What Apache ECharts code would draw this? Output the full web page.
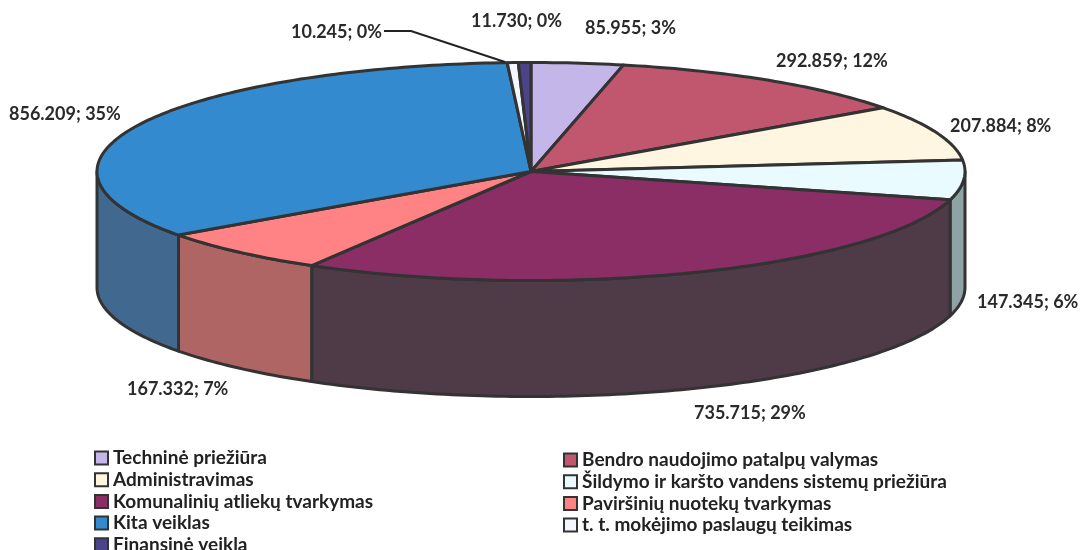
<!DOCTYPE html>
<html>
<head>
<meta charset="utf-8">
<style>
    html, body { margin: 0; padding: 0; background: #fff; }
    #chart { width: 1081px; height: 550px; }
</style>
<script src="https://cdn.jsdelivr.net/npm/echarts@6/dist/echarts.min.js"></script>
</head>
<body>
<div id="chart"></div>
<script>
// slices, in drawing order, clockwise from 12 o'clock
const categories = [
    'Techninė priežiūra',
    'Bendro naudojimo patalpų valymas',
    'Administravimas',
    'Šildymo ir karšto vandens sistemų priežiūra',
    'Komunalinių atliekų tvarkymas',
    'Paviršinių nuotekų tvarkymas',
    'Kita veiklas',
    't. t. mokėjimo paslaugų teikimas',
    'Finansinė veikla'
];
const values = [85955, 292859, 207884, 147345, 735715, 167332, 856209, 10245, 11730];
// the percentages as printed on the original
const percents = [3, 12, 8, 6, 29, 7, 35, 0, 0];

const topColors = ['#c5b6ea', '#c1566f', '#fff6e1', '#e9fbff', '#8b2e66', '#ff8284', '#338ace', '#f4f7ff', '#4b4488'];
const wallColors = ['#6f6785', '#6f3240', '#8f8a7e', '#8fa3a5', '#4f3a47', '#b06565', '#41698f', '#888b92', '#2b274e'];

// pie geometry in pixels
const cx = 531;
const cy = 171.5;
const rx = 434;
const ry = 109;
const depth = 116;

// label anchors (left, middle) in the same order as the slices
const labelAnchors = [
    [585, 27], [776, 60], [950, 125], [977, 301], [694, 412],
    [127, 388], [9, 113], [291, 31], [471, 20]
];

const total = values.reduce((a, b) => a + b, 0);

function pointAt(deg, dy) {
    const r = deg * Math.PI / 180;
    return [cx + rx * Math.sin(r), cy - ry * Math.cos(r) + dy];
}

function arc(from, to, dy) {
    const pts = [];
    const n = Math.max(2, Math.ceil(Math.abs(to - from)));
    for (let i = 0; i <= n; i++) {
        pts.push(pointAt(from + (to - from) * i / n, dy));
    }
    return pts;
}

const edge = { stroke: '#333', lineWidth: 3, lineJoin: 'round' };

function sliceRenderer(index) {
    const before = values.slice(0, index).reduce((a, b) => a + b, 0);

    return (params, api) => {
        const a0 = before / total * 360;
        const a1 = (before + api.value(0)) / total * 360;
        const children = [];

        // only the front half of the cylinder shows a wall
        const w0 = Math.max(a0, 90);
        const w1 = Math.min(a1, 270);
        if (w1 > w0) {
            const wall = arc(w0, w1, 0).concat(arc(w1, w0, depth));
            children.push({
                type: 'polygon',
                shape: { points: wall },
                style: { fill: wallColors[index], ...edge }
            });
        }

        children.push({
            type: 'polygon',
            shape: { points: [[cx, cy]].concat(arc(a0, a1, 0)) },
            style: { fill: topColors[index], ...edge }
        });

        return { type: 'group', children };
    };
}

const series = categories.map((name, i) => ({
    name,
    type: 'custom',
    coordinateSystem: 'none',
    silent: true,
    itemStyle: { color: topColors[i] },
    renderItem: sliceRenderer(i),
    data: [[values[i]]]
}));

const labelFont = {
    fontFamily: 'Lato',
    fontWeight: 'bold',
    fontSize: 18,
    fill: '#2a2a2a'
};

const labels = values.map((v, i) => ({
    type: 'text',
    left: labelAnchors[i][0],
    top: labelAnchors[i][1] - 8,
    style: {
        text: `${v.toLocaleString('de-DE')}; ${percents[i]}%`,
        ...labelFont
    }
}));

function legend(left, top, names) {
    return {
        left,
        top,
        // the last row runs off the bottom of the page, as in the original
        height: 200,
        orient: 'vertical',
        data: names,
        selectedMode: false,
        icon: 'rect',
        itemWidth: 13,
        itemHeight: 13,
        itemGap: 2.7,
        padding: 0,
        itemStyle: { borderColor: '#333', borderWidth: 2 },
        textStyle: {
            fontFamily: 'Lato',
            fontWeight: 'bold',
            fontSize: 19,
            color: '#222'
        }
    };
}

const chart = echarts.init(document.getElementById('chart'));
chart.setOption({
    animation: false,
    backgroundColor: '#fff',
    legend: [
        legend(94, 448.5, [categories[0], categories[2], categories[4], categories[6], categories[8]]),
        legend(563, 450.5, [categories[1], categories[3], categories[5], categories[7]])
    ],
    series,
    graphic: labels.concat([{
        type: 'polyline',
        shape: { points: [[384, 31], [411, 31], [505, 62]] },
        style: { stroke: '#222', lineWidth: 2, fill: 'none' },
        z: 10
    }])
});
</script>
</body>
</html>
